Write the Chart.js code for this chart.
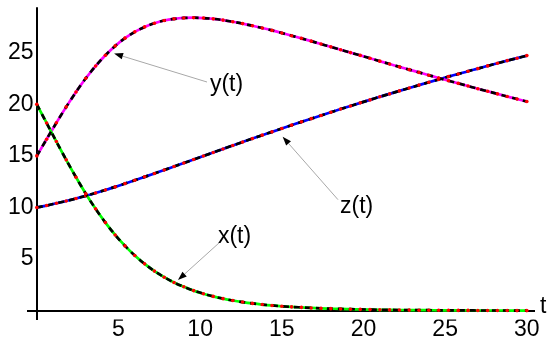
<!DOCTYPE html>
<html>
<head>
<meta charset="utf-8">
<script src="https://cdn.jsdelivr.net/npm/chart.js@4/dist/chart.umd.min.js"></script>
<style>
  html, body { margin: 0; padding: 0; background: #fff; }
  #wrap { width: 550px; height: 341px; position: relative; }
</style>
</head>
<body>
<div id="wrap"><canvas id="c" width="550" height="341"></canvas></div>
<script>
// ---- data ----
const tValues = [0,0.6,1.2,1.8,2.4,3,3.6,4.2,4.8,5.4,6,6.6,7.2,7.8,8.4,9,9.6,10.2,10.8,11.4,12,12.6,13.2,13.8,14.4,15,15.6,16.2,16.8,17.4,18,18.6,19.2,19.8,20.4,21,21.6,22.2,22.8,23.4,24,24.6,25.2,25.8,26.4,27,27.6,28.2,28.8,29.4,30];
const xValues = [20,18.19,16.39,14.62,12.93,11.34,9.87,8.54,7.34,6.28,5.35,4.54,3.84,3.25,2.74,2.32,1.95,1.65,1.39,1.17,0.99,0.84,0.71,0.60,0.51,0.43,0.37,0.32,0.27,0.23,0.20,0.17,0.15,0.13,0.11,0.09,0.08,0.07,0.06,0.05,0.05,0.04,0.04,0.03,0.03,0.02,0.02,0.02,0.02,0.01,0.01];
const yValues = [15,16.62,18.21,19.75,21.19,22.52,23.71,24.76,25.66,26.41,27.02,27.50,27.86,28.12,28.28,28.37,28.39,28.36,28.28,28.16,28.00,27.82,27.61,27.39,27.16,26.91,26.65,26.39,26.12,25.84,25.57,25.29,25.01,24.74,24.46,24.18,23.90,23.63,23.36,23.09,22.82,22.55,22.29,22.03,21.77,21.51,21.26,21.01,20.76,20.51,20.27];
const zValues = [10,10.19,10.41,10.63,10.87,11.13,11.41,11.70,12.00,12.32,12.64,12.97,13.30,13.63,13.97,14.31,14.65,14.99,15.33,15.67,16.01,16.34,16.68,17.01,17.33,17.66,17.98,18.30,18.61,18.92,19.23,19.54,19.84,20.14,20.43,20.73,21.01,21.30,21.58,21.86,22.14,22.41,22.68,22.94,23.21,23.46,23.72,23.98,24.23,24.47,24.72];
const xTickValues = [0,5,10,15,20,25,30];
const yTickValues = [0,5,10,15,20,25];
const seriesNames = ['x(t)','y(t)','z(t)'];
const axisLabel = 't';

// ---- styles / layout ----
const FONT = "'Liberation Sans', Arial, Helvetica, sans-serif";
const seriesColors = ['#00ff00', '#ff00ff', '#0000ff'];
const annotations = [
  { text: seriesNames[1], textAt: [10.6, 21.87], from: [10.42, 22.16], to: [4.73, 24.92] },
  { text: seriesNames[2], textAt: [18.56, 10.05], from: [18.44, 10.76], to: [15.05, 16.86] },
  { text: seriesNames[0], textAt: [11.09, 7.14], from: [11.22, 6.66], to: [8.64, 2.97] }
];

function pts(vals) { return tValues.map((t, i) => ({ x: t, y: vals[i] })); }
const allSeries = [xValues, yValues, zValues];

const datasets = [];
allSeries.forEach((vals, i) => {
  datasets.push({
    label: seriesNames[i] + ' base',
    data: pts(vals),
    borderColor: seriesColors[i],
    borderWidth: 2.7,
    pointRadius: 0,
    tension: 0.4,
    cubicInterpolationMode: 'monotone',
    order: 10
  });
});
allSeries.forEach((vals, i) => {
  datasets.push({
    label: seriesNames[i],
    data: pts(vals),
    borderColor: '#000000',
    borderWidth: 2.7,
    borderDash: [6, 5],
    pointRadius: 1.8,
    pointBackgroundColor: '#ff0000',
    pointBorderWidth: 0,
    tension: 0.4,
    cubicInterpolationMode: 'monotone',
    order: 1
  });
});

const annotPlugin = {
  id: 'annot',
  afterDraw(chart) {
    const ctx = chart.ctx;
    const xs = chart.scales.x, ys = chart.scales.y;
    ctx.save();
    annotations.forEach(a => {
      const x1 = xs.getPixelForValue(a.from[0]), y1 = ys.getPixelForValue(a.from[1]);
      const x2 = xs.getPixelForValue(a.to[0]), y2 = ys.getPixelForValue(a.to[1]);
      const ang = Math.atan2(y2 - y1, x2 - x1);
      const L = 9, W = 3.2;
      const bx = x2 - L * Math.cos(ang), by = y2 - L * Math.sin(ang);
      ctx.strokeStyle = '#a8a8a8';
      ctx.lineWidth = 1;
      ctx.beginPath();
      ctx.moveTo(x1, y1);
      ctx.lineTo(bx, by);
      ctx.stroke();
      ctx.fillStyle = '#000';
      ctx.beginPath();
      ctx.moveTo(x2, y2);
      ctx.lineTo(bx + W * Math.sin(ang), by - W * Math.cos(ang));
      ctx.lineTo(bx - W * Math.sin(ang), by + W * Math.cos(ang));
      ctx.closePath();
      ctx.fill();
      ctx.font = '23px ' + FONT;
      ctx.textAlign = 'left';
      ctx.textBaseline = 'middle';
      ctx.fillText(a.text, xs.getPixelForValue(a.textAt[0]), ys.getPixelForValue(a.textAt[1]));
    });
    // axis name at end of horizontal axis
    ctx.font = '23px ' + FONT;
    ctx.textAlign = 'left';
    ctx.textBaseline = 'middle';
    ctx.fillText(axisLabel, chart.chartArea.right + 5, ys.getPixelForValue(0) - 4);
    ctx.restore();
  }
};

const zeroLine = (ctx) => (ctx.tick && ctx.tick.value === 0) ? '#000000' : 'rgba(0,0,0,0)';

new Chart(document.getElementById('c'), {
  type: 'line',
  data: { datasets },
  options: {
    responsive: false,
    animation: false,
    devicePixelRatio: 1,
    layout: { padding: { top: 7.3, right: 15, left: 0, bottom: 0 } },
    plugins: { legend: { display: false }, tooltip: { enabled: false } },
    scales: {
      x: {
        type: 'linear',
        min: -0.6, max: 30.5,
        afterBuildTicks: s => { s.ticks = xTickValues.map(v => ({ value: v })); },
        afterFit: s => { s.height = 21.5; },
        ticks: {
          autoSkip: false, maxRotation: 0, padding: -3.5,
          color: '#000', font: { family: FONT, size: 23 },
          callback: v => v === 0 ? '' : String(v)
        },
        grid: { color: zeroLine, lineWidth: 2, drawTicks: false },
        border: { display: false }
      },
      y: {
        type: 'linear',
        min: -0.85, max: 29.4,
        afterBuildTicks: s => { s.ticks = yTickValues.map(v => ({ value: v })); },
        afterFit: s => { s.width = 27; },
        ticks: {
          autoSkip: false, mirror: true, crossAlign: 'far', padding: -19.1,
          color: '#000', font: { family: FONT, size: 23 },
          callback: v => v === 0 ? '' : String(v)
        },
        grid: { color: zeroLine, lineWidth: 2, drawTicks: false },
        border: { display: false }
      }
    }
  },
  plugins: [annotPlugin]
});
</script>
</body>
</html>
